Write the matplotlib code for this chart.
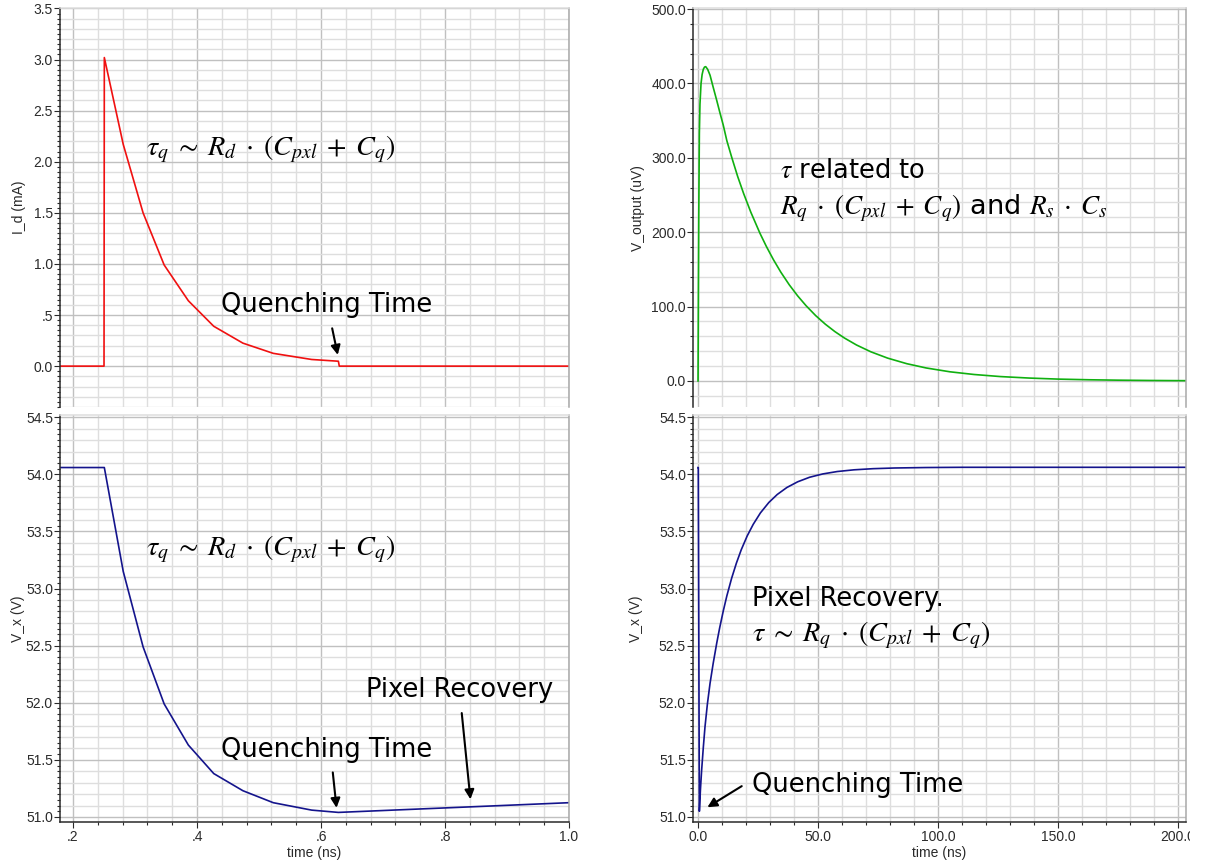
import matplotlib
matplotlib.use("Agg")
import matplotlib.pyplot as plt
import numpy as np
from matplotlib.ticker import FixedLocator, FixedFormatter, MultipleLocator
from matplotlib.transforms import Bbox, TransformedBbox

plt.rcParams["mathtext.fontset"] = "stix"

# ---- fast window: avalanche and quench (time in ns) ----
t_id = [0.179, 0.250, 0.2505, 0.281, 0.313, 0.347, 0.386, 0.427, 0.474,
        0.523, 0.585, 0.628, 0.6295, 1.0]
i_d_ma = [0.0, 0.0, 3.02, 2.17, 1.50, 0.99, 0.64, 0.39, 0.225,
          0.125, 0.065, 0.048, 0.0, 0.0]

t_vx_fast = [0.179, 0.2505, 0.281, 0.313, 0.347, 0.386, 0.427, 0.474,
             0.523, 0.585, 0.628, 1.0]
v_x_fast = [54.06, 54.06, 53.15, 52.49, 51.99, 51.63, 51.38, 51.23,
            51.125, 51.06, 51.04, 51.125]

# ---- slow window: output pulse and recovery (time in ns) ----
t_out = [0.0, 0.15, 0.3, 0.55, 0.8, 1.25, 1.7, 2.2, 2.7, 3.2, 4.0, 5.0,
         6.3, 7.8, 9.0, 10.5, 12.0, 14.0, 16.5, 19.0, 22.0, 25.8, 28.5,
         31.4, 34.5, 38.0, 41.5, 45.0, 49.0, 53.0, 57.0, 61.0, 66.0, 72.0,
         79.0, 87.0, 95.0, 105.0, 115.0, 126.0, 138.0, 150.0, 163.0, 175.0,
         188.0, 200.0, 203.3]
v_out_uv = [0.0, 120.0, 221.0, 333.0, 372.0, 400.0, 412.0, 419.0, 422.0,
            422.5, 419.0, 411.0, 395.0, 377.0, 362.0, 344.0, 323.0, 301.0,
            275.0, 251.9, 226.8, 198.5, 180.6, 163.1, 146.2, 129.3, 114.4,
            101.2, 87.9, 76.4, 66.4, 57.7, 48.4, 39.2, 30.7, 23.2, 17.5,
            12.3, 8.7, 5.9, 3.9, 2.5, 1.6, 1.06, 0.67, 0.44, 0.40]

t_rec = [0.0, 0.1, 0.55, 1.0, 1.5, 2.2, 2.9, 3.9, 5.0, 6.3, 7.8, 9.0, 10.5,
         12.0, 14.0, 16.0, 18.0, 20.5, 23.0, 26.0, 29.5, 33.0, 37.0, 41.5,
         46.5, 52.0, 58.0, 65.0, 73.0, 82.0, 95.0, 110.0, 203.3]
v_x_rec = [54.06, 54.06, 51.05, 51.24, 51.41, 51.61, 51.79, 51.99, 52.17,
           52.344, 52.524, 52.655, 52.803, 52.936, 53.091, 53.224, 53.340,
           53.462, 53.563, 53.663, 53.754, 53.824, 53.885, 53.935, 53.975,
           54.004, 54.025, 54.040, 54.050, 54.056, 54.060, 54.062, 54.062]

# ---- tick values and their printed labels ----
id_ticks = [0.0, 0.5, 1.0, 1.5, 2.0, 2.5, 3.0, 3.5]
id_labels = ["0.0", ".5", "1.0", "1.5", "2.0", "2.5", "3.0", "3.5"]
vx_ticks = [51.0, 51.5, 52.0, 52.5, 53.0, 53.5, 54.0, 54.5]
vx_labels = ["51.0", "51.5", "52.0", "52.5", "53.0", "53.5", "54.0", "54.5"]
vout_ticks = [0, 100, 200, 300, 400, 500]
vout_labels = ["0.0", "100.0", "200.0", "300.0", "400.0", "500.0"]
fast_ticks = [0.2, 0.4, 0.6, 0.8, 1.0]
fast_labels = [".2", ".4", ".6", ".8", "1.0"]
slow_ticks = [0, 50, 100, 150, 200]
slow_labels = ["0.0", "50.0", "100.0", "150.0", "200.0"]

RED = "#f01010"
GREEN = "#10b010"
NAVY = "#14148c"
GRID_MINOR = "#dedede"
GRID_MAJOR = "#c0c0c0"
INK = "#2a2a2a"

W, H = 1210, 865
fig = plt.figure(figsize=(W / 100, H / 100), dpi=100)


def frac_box(x0, y0, x1, y1):
    return [x0 / W, 1 - y1 / H, (x1 - x0) / W, (y1 - y0) / H]


ax_id = fig.add_axes(frac_box(60, 8.5, 569, 407))
ax_vf = fig.add_axes(frac_box(60, 415, 569, 822))
ax_out = fig.add_axes(frac_box(693, 8.5, 1186, 407))
ax_vs = fig.add_axes(frac_box(693, 415, 1186, 822))


def style(ax, xlim, ylim, xgrid, xmaj, ygrid, ymaj, ymin_tick,
          yticks, ylabels, xticks=None, xlabels=None):
    ax.set_xlim(*xlim)
    ax.set_ylim(*ylim)
    # grid drawn as thin lines, darker on the major divisions
    for v in np.arange(np.ceil(xlim[0] / xgrid) * xgrid, xlim[1] + 1e-9, xgrid):
        major = abs(v / xmaj - round(v / xmaj)) < 1e-6
        ax.axvline(v, color=GRID_MAJOR if major else GRID_MINOR,
                   lw=1.0, zorder=0)
    for v in np.arange(np.ceil(ylim[0] / ygrid) * ygrid, ylim[1] + 1e-9, ygrid):
        major = abs(v / ymaj - round(v / ymaj)) < 1e-6
        ax.axhline(v, color=GRID_MAJOR if major else GRID_MINOR,
                   lw=1.0, zorder=0)
    for s in ("top", "right", "bottom", "left"):
        ax.spines[s].set_linewidth(1.1)
    ax.spines["left"].set_color(INK)
    ax.spines["right"].set_color("#a8a8a8")
    ax.spines["top"].set_color(GRID_MINOR)
    ax.yaxis.set_major_locator(FixedLocator(yticks))
    ax.yaxis.set_major_formatter(FixedFormatter(ylabels))
    ax.yaxis.set_minor_locator(MultipleLocator(ymin_tick))
    ax.tick_params(axis="y", which="both", direction="out", color=INK,
                   width=0.8, labelsize=10, labelcolor=INK, pad=1)
    ax.tick_params(axis="y", which="major", length=4)
    ax.tick_params(axis="y", which="minor", length=2.4)
    if xticks is None:
        ax.spines["bottom"].set_visible(False)
        ax.tick_params(axis="x", which="both", bottom=False,
                       labelbottom=False)
    else:
        ax.spines["bottom"].set_color(INK)
        ax.xaxis.set_major_locator(FixedLocator(xticks))
        ax.xaxis.set_major_formatter(FixedFormatter(xlabels))
        ax.xaxis.set_minor_locator(MultipleLocator(xgrid))
        ax.tick_params(axis="x", which="both", direction="out", color=INK,
                       width=0.8, labelsize=10, labelcolor=INK, pad=2)
        ax.tick_params(axis="x", which="major", length=4)
        ax.tick_params(axis="x", which="minor", length=2.4)
    for lab in ax.get_xticklabels() + ax.get_yticklabels():
        lab.set_fontfamily("Liberation Sans")


style(ax_id, (0.179, 1.0), (-0.40, 3.5), 0.04, 0.2, 0.1, 0.5, 0.05,
      id_ticks, id_labels)
style(ax_vf, (0.179, 1.0), (50.956, 54.52), 0.04, 0.2, 0.1, 0.5, 0.05,
      vx_ticks, vx_labels, fast_ticks, fast_labels)
style(ax_out, (-2.1, 203.3), (-35, 500.7), 10, 50, 20, 100, 20,
      vout_ticks, vout_labels)
style(ax_vs, (-2.1, 203.3), (50.956, 54.52), 10, 50, 0.1, 0.5, 0.05,
      vx_ticks, vx_labels, slow_ticks, slow_labels)

ax_id.plot(t_id, i_d_ma, color=RED, lw=1.2)
ax_vf.plot(t_vx_fast, v_x_fast, color=NAVY, lw=1.2)
ax_out.plot(t_out, v_out_uv, color=GREEN, lw=1.2)
ax_vs.plot(t_rec, v_x_rec, color=NAVY, lw=1.2)

lab_kw = dict(fontsize=10, color=INK, family="Liberation Sans")
ax_id.set_ylabel("I_d (mA)", **lab_kw)
ax_vf.set_ylabel("V_x (V)", **lab_kw)
ax_out.set_ylabel("V_output (uV)", **lab_kw)
ax_vs.set_ylabel("V_x (V)", **lab_kw)
ax_vf.set_xlabel("time (ns)", **lab_kw)
ax_vs.set_xlabel("time (ns)", **lab_kw)
ax_id.yaxis.set_label_coords(-0.067, 0.5)
ax_vf.yaxis.set_label_coords(-0.069, 0.5)
ax_out.yaxis.set_label_coords(-0.097, 0.5)
ax_vs.yaxis.set_label_coords(-0.101, 0.5)
ax_vf.xaxis.set_label_coords(0.5, -0.058)
ax_vs.xaxis.set_label_coords(0.5, -0.058)

# the last time label runs off the plotting area and is cut
clip = TransformedBbox(Bbox([[0, 0], [1190 / W, 1]]), fig.transFigure)
for lab in ax_vs.get_xticklabels():
    lab.set_clip_box(clip)
    lab.set_clip_on(True)

note_kw = dict(fontsize=18.5, color="black", family="DejaVu Sans",
               va="center", ha="left")
math_kw = dict(note_kw, fontsize=20.3)
mixed_kw = dict(note_kw, fontsize=19.5)
arrow_kw = dict(arrowstyle="-|>", color="black", lw=1.5, mutation_scale=14,
                shrinkA=0, shrinkB=0)
tau_q = r"$\tau_q\;\sim\;R_d\;\cdot\;(C_{pxl}\;+\;C_q)$"

ax_id.text(0.318, 2.12, tau_q, **math_kw)
ax_id.text(0.439, 0.60, "Quenching Time", **note_kw)
ax_id.annotate("", xy=(0.627, 0.11), xytext=(0.618, 0.37),
               arrowprops=arrow_kw)

ax_vf.text(0.318, 53.34, tau_q, **math_kw)
ax_vf.text(0.439, 51.59, "Quenching Time", **note_kw)
ax_vf.annotate("", xy=(0.625, 51.08), xytext=(0.619, 51.39),
               arrowprops=arrow_kw)
ax_vf.text(0.673, 52.11, "Pixel Recovery", **note_kw)
ax_vf.annotate("", xy=(0.841, 51.155), xytext=(0.827, 51.91),
               arrowprops=arrow_kw)

ax_out.text(34.2, 282, r"$\tau$ related to", **note_kw)
ax_out.text(34.2, 232.5,
            r"$R_q\;\cdot\;(C_{pxl}\;+\;C_q)$ and $R_s\;\cdot\;C_s$",
            **mixed_kw)

ax_vs.text(22.5, 52.91, "Pixel Recovery.", **note_kw)
ax_vs.text(22.5, 52.59, r"$\tau\;\sim\;R_q\;\cdot\;(C_{pxl}\;+\;C_q)$",
           **math_kw)
ax_vs.text(22.5, 51.28, "Quenching Time", **note_kw)
ax_vs.annotate("", xy=(3.9, 51.085), xytext=(18.2, 51.27),
               arrowprops=arrow_kw)

fig.savefig("out.png", dpi=100)
